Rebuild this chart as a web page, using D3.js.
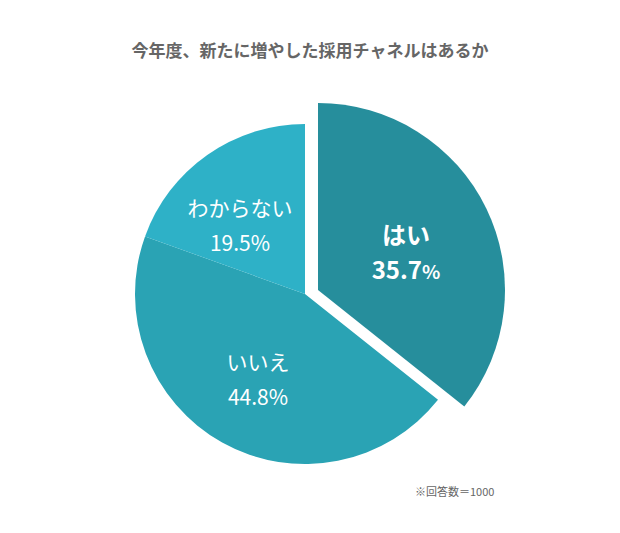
<!DOCTYPE html><html><head><meta charset="utf-8">
<script src="https://cdn.jsdelivr.net/npm/d3@7"></script>
<style>body{margin:0;background:#fff}</style></head><body>
<svg id="c" width="620" height="533"></svg>
<script>
const categories=["はい","いいえ","わからない"];
const values=[35.7,44.8,19.5];
const colors=["#268e9c","#2aa3b4","#2eb1c7"];
const svg=d3.select("#c");
const font="'Noto Sans CJK JP','Noto Sans',sans-serif";
svg.append("text").attr("x",310).attr("y",57).attr("text-anchor","middle").attr("font-family",font)
 .attr("font-size",17).attr("font-weight","bold").attr("fill","#666").text("今年度、新たに増やした採用チャネルはあるか");
const arcs=d3.pie().sort(null).value(d=>d)(values);
const cx=305,cy=294,r=170;
const g=svg.append("g").attr("transform",`translate(${cx},${cy})`);
const labelPos=[[101,-50],[-47,76],[-65,-78]];
arcs.forEach((a,i)=>{
  let off=[0,0],rad=r;
  if(i===0){off=[13,-4];rad=187;}
  g.append("path").attr("transform",`translate(${off})`).attr("d",d3.arc().innerRadius(0).outerRadius(rad)(a)).attr("fill",colors[i]);
  const [lx,ly]=labelPos[i];
  const bold=i===0;
  const t=g.append("text").attr("text-anchor","middle").attr("font-family",font).attr("fill","#fff")
    .attr("font-weight",bold?"bold":"normal");
  t.append("tspan").attr("x",lx).attr("y",ly).attr("font-size",bold?24:21).text(categories[i]);
  const p=t.append("tspan").attr("x",lx).attr("y",ly+35).attr("font-size",bold?24:21);
  p.append("tspan").text(values[i].toFixed(1));
  p.append("tspan").attr("font-size",bold?19:21).text("%");
});
svg.append("text").attr("x",415).attr("y",496).attr("font-family",font).attr("font-size",11).attr("fill","#666").text("※回答数＝1000");
</script></body></html>
